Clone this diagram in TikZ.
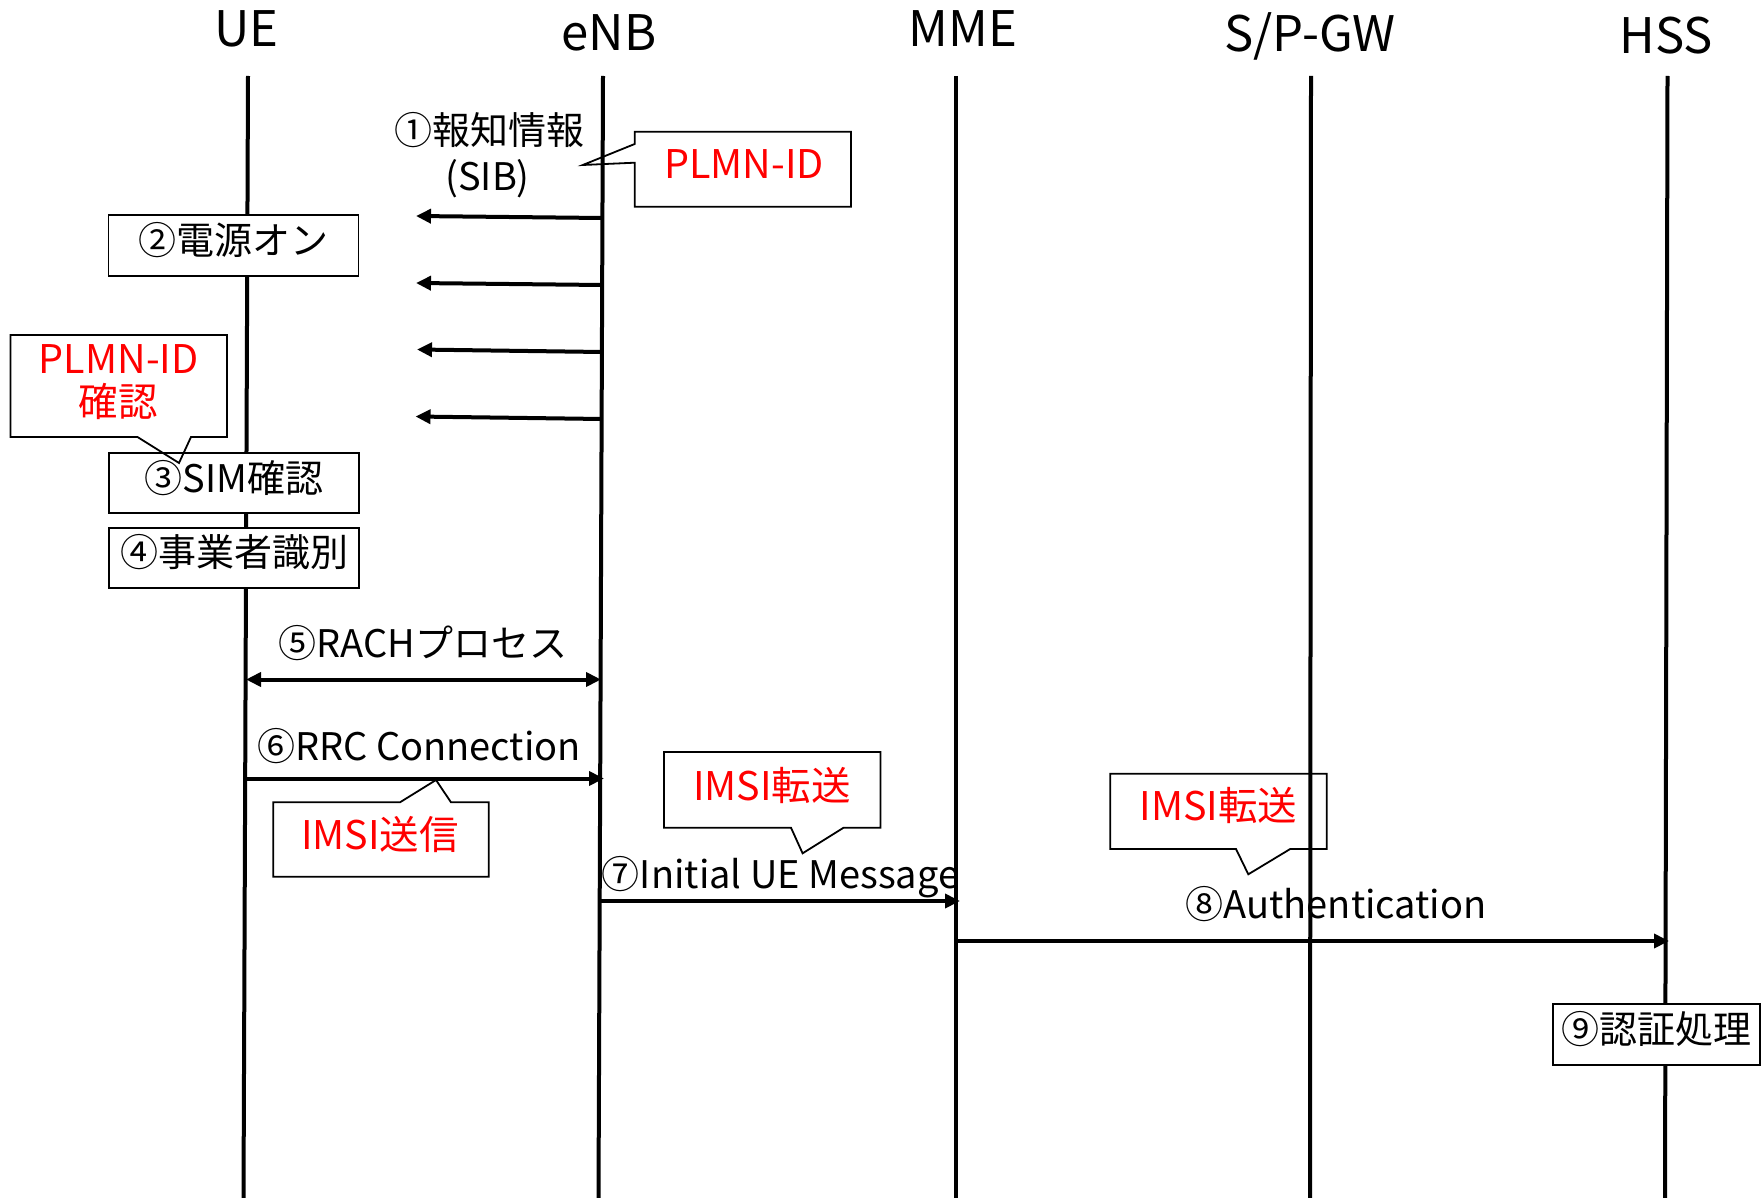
\documentclass[tikz,border=0pt]{standalone}
\usepackage{fontspec}
\setmainfont{Noto Sans CJK JP}
\usetikzlibrary{arrows.meta}
\definecolor{plmnred}{RGB}{255,0,0}
\begin{document}
\begin{tikzpicture}[x=1pt,y=-1pt,
  lifeline/.style={line width=4pt},
  msg/.style={line width=4pt,-{Triangle[length=15pt,width=14pt]}},
  bimsg/.style={line width=4pt,{Triangle[length=15pt,width=14pt]}-{Triangle[length=15pt,width=14pt]}},
  title/.style={font=\fontsize{49}{54}\selectfont,inner sep=0pt,text height=42pt,text depth=6pt},
  lbl/.style={font=\fontsize{38}{42}\selectfont,inner sep=0pt,text height=33pt,text depth=5.5pt},
  redlbl/.style={lbl,font=\fontsize{39.5}{43}\selectfont,text=plmnred},
  stepbox/.style={draw,line width=1.8pt,fill=white,inner sep=0pt,
     font=\fontsize{38}{42}\selectfont,text height=29pt,text depth=11.5pt},
  callout/.style={draw,line width=1.8pt,line join=miter}]
\useasboundingbox (0,0) rectangle (1761,1198);

% titles
\node[title] (ue)   at (246.6,28.3) {UE};
\node[title] (enb)  at (609,33)     {eNB};
\node[title] (mme)  at (963,29)     {MME};
\node[title] (gw)   at (1310,33.3)  {S/P-GW};
\node[title] (hss)  at (1666,35.5)  {HSS};

% lifeline ends
\coordinate (ueT) at (248,76);    \coordinate (ueB) at (243.5,1198);
\coordinate (enbT) at (603,76);   \coordinate (enbB) at (598.5,1198);
\coordinate (mmeT) at (956,76);   \coordinate (mmeB) at (956,1198);
\coordinate (gwT) at (1311,76);   \coordinate (gwB) at (1310,1198);
\coordinate (hssT) at (1667.5,76); \coordinate (hssB) at (1665,1198);

\draw[lifeline] (ueT) -- (ueB);
\draw[lifeline] (enbT) -- (enbB);
\draw[lifeline] (mmeT) -- (mmeB);
\draw[lifeline] (gwT) -- (gwB);
\draw[lifeline] (hssT) -- (hssB);

% (1) broadcast
\node[lbl] (l1a) at (489,131) {①報知情報};
\node[lbl] (l1b) at (487.6,177) {(SIB)};
\draw[callout] (634.7,131.7) -- (851,131.7) -- (851,206.7) -- (634.7,206.7)
   -- (634.7,162.7) -- (582.8,165) -- (634.7,144) -- cycle;
\node[redlbl] (plmn1) at (744,165) {PLMN-ID};

\coordinate (b1s) at (602,218); \coordinate (b1e) at (416,216);
\coordinate (b2s) at (602,285); \coordinate (b2e) at (416,283);
\coordinate (b3s) at (602,352); \coordinate (b3e) at (417,349.5);
\coordinate (b4s) at (602,419); \coordinate (b4e) at (415.5,416.5);
\draw[msg] (b1s) -- (b1e);
\draw[msg] (b2s) -- (b2e);
\draw[msg] (b3s) -- (b3e);
\draw[msg] (b4s) -- (b4e);

% UE boxes
\node[stepbox,minimum width=250pt,minimum height=61pt] (s2) at (233.5,245.5) {②電源オン};
\node[stepbox,minimum width=250pt,minimum height=60pt] (s3) at (234,483.3) {③SIM確認};
\node[stepbox,minimum width=250pt,minimum height=60.6pt] (s4) at (234,558) {④事業者識別};

\draw[callout] (10.4,335) -- (227,335) -- (227,437) -- (191,437) -- (179,463)
   -- (137.5,437) -- (10.4,437) -- cycle;
\node[redlbl] (plmn2) at (118.7,359.7) {PLMN-ID};
\node[redlbl] (kakunin) at (118,403) {確認};

% (5) RACH
\node[lbl] (l5) at (423,644) {⑤RACHプロセス};
\coordinate (r5a) at (246,679.5); \coordinate (r5b) at (601,679.5);
\draw[bimsg] (r5a) -- (r5b);

% (6) RRC
\node[lbl] (l6) at (419,747) {⑥RRC Connection};
\coordinate (r6a) at (246,778.5); \coordinate (r6b) at (604,778.5);
\draw[msg] (r6a) -- (r6b);
\draw[callout] (273.3,802.3) -- (400,802.3) -- (436,780) -- (451,802.3) -- (488.7,802.3)
   -- (488.7,876.7) -- (273.3,876.7) -- cycle;
\node[redlbl] (imsi1) at (380,835.5) {IMSI送信};

% (7) Initial UE Message
\draw[callout] (664,752) -- (880.5,752) -- (880.5,827.7) -- (843.6,827.7) -- (802.6,853.3)
   -- (791,827.7) -- (664,827.7) -- cycle;
\node[redlbl] (imsi2) at (772,787) {IMSI転送};
\node[lbl] (l7) at (780.6,875) {⑦Initial UE Message};
\coordinate (r7a) at (600,901); \coordinate (r7b) at (960,901);
\draw[msg] (r7a) -- (r7b);

% (8) Authentication
\draw[callout] (1110.2,773.7) -- (1326.7,773.7) -- (1326.7,849) -- (1290.2,849) -- (1248.3,874.3)
   -- (1236,849) -- (1110.2,849) -- cycle;
\node[redlbl] (imsi3) at (1218.6,807) {IMSI転送};
\node[lbl] (l8) at (1336,905) {⑧Authentication};
\coordinate (r8a) at (956,941); \coordinate (r8b) at (1669,941);
\draw[msg] (r8a) -- (r8b);

% (9)
\node[stepbox,minimum width=207pt,minimum height=60.7pt] (s9) at (1656.2,1034.6) {⑨認証処理};
\end{tikzpicture}
\end{document}
